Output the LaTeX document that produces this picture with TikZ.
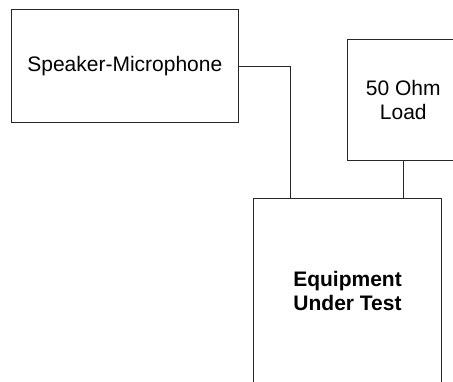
\documentclass[tikz,border=0pt]{standalone}
\usepackage{fontspec}
\setmainfont{Liberation Sans}
\begin{document}
\begin{tikzpicture}[x=1pt,y=1pt,
  box/.style={draw=black!85,line width=0.9pt,rectangle,inner sep=0pt,align=center,font=\fontsize{21}{24.5}\selectfont},
  wire/.style={draw=black!85,line width=0.9pt}]
\useasboundingbox (0,0) rectangle (453,-381);
\clip (0,0) rectangle (453,-381);
\node[box,minimum width=226.3pt,minimum height=113.2pt] (spk) at (124.8,-66) {Speaker-Microphone};
\node[box,minimum width=112pt,minimum height=120.6pt] (load) at (403.3,-100) {50 Ohm\\Load};
\node[box,minimum width=188.4pt,minimum height=186pt,font=\fontsize{21}{24.5}\selectfont\bfseries] (eut) at (347.5,-291) {Equipment\\Under Test};
\draw[wire] (spk.east) -| ([xshift=37.4pt]eut.north west);
\draw[wire] (load.south) -- (load.south |- eut.north);
\end{tikzpicture}
\end{document}
